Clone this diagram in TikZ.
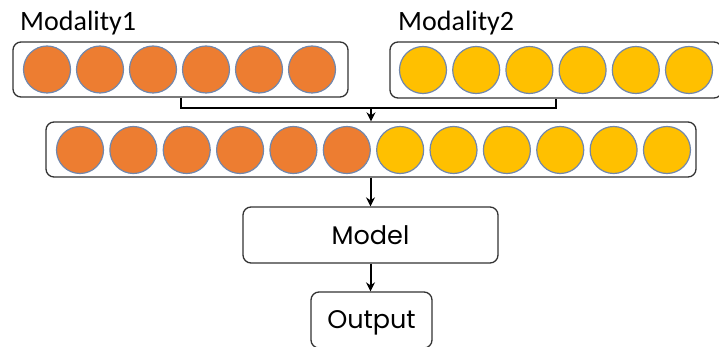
\documentclass[tikz,border=0pt]{standalone}
\usepackage{fontspec}
\setmainfont{Carlito}
\newfontfamily\boxfont{Poppins}
\usetikzlibrary{arrows.meta}
\definecolor{orangefill}{HTML}{ED7D31}
\definecolor{goldfill}{HTML}{FFC000}
\definecolor{ringcol}{HTML}{7187AC}
\definecolor{framecol}{HTML}{333333}
\begin{document}
\begin{tikzpicture}[x=1pt,y=-1pt,
  frame/.style={draw=framecol,line width=1.3pt,rounded corners=8pt,inner sep=0pt},
  unit/.style={circle,draw=ringcol,line width=1.2pt,minimum size=47pt,inner sep=0pt},
  orangeunit/.style={unit,fill=orangefill},
  goldunit/.style={unit,fill=goldfill},
  link/.style={line width=2pt,draw=black},
  flow/.style={link,-{Stealth[length=9pt,width=9pt]}},
  title/.style={font=\fontsize{28}{30}\selectfont,anchor=base west,inner sep=0pt},
  stage/.style={frame,font=\boxfont\fontsize{25.5}{28}\selectfont,text depth=0pt}]
\useasboundingbox (0,0) rectangle (719,347);
\clip (0,0) rectangle (719,347);

% captions
\node[title] (cap1) at (20,31) {Modality1};
\node[title] (cap2) at (398,31) {Modality2};

% input groups
\node[frame,minimum width=335pt,minimum height=55pt] (mod1) at (180.5,69.5) {};
\node[frame,minimum width=332pt,minimum height=56pt] (mod2) at (556,70) {};
\foreach \i in {0,...,5} {
  \node[orangeunit] (a\i) at (47+53*\i,69.5) {};
  \node[goldunit] (b\i) at (423+53.2*\i,70) {};
}

% concatenated vector
\node[frame,minimum width=650pt,minimum height=55pt] (cat) at (371,149.5) {};
\foreach \i in {0,...,11} {
  \ifnum\i<6
    \node[orangeunit] (c\i) at (80+53.36*\i,150) {};
  \else
    \node[goldunit] (c\i) at (80+53.36*\i,150) {};
  \fi
}

% model and output
\node[stage,minimum width=255pt,minimum height=56pt] (model) at (370.5,235) {Model};
\node[stage,minimum width=121pt,minimum height=56pt] (out) at (371.5,320) {Output};

% connectors
\coordinate (join) at (371,108);
\draw[link] (mod1.south) |- (join) -| (mod2.south);
\draw[flow] (join) -- (cat.north -| join);
\draw[flow] (cat.south -| model.north) -- (model.north);
\draw[flow] (model.south) -- (out.north -| model.south);
\end{tikzpicture}
\end{document}
